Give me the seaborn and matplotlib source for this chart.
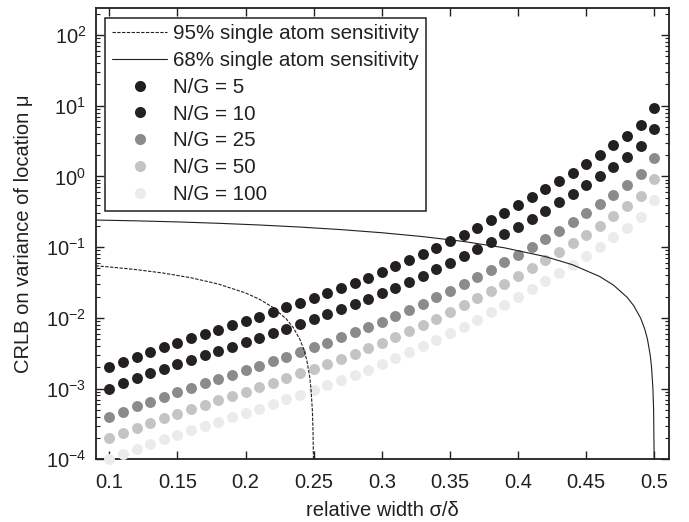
import numpy as np
import pandas as pd
import matplotlib
matplotlib.use("Agg")
import matplotlib.pyplot as plt
import seaborn as sns
from matplotlib.lines import Line2D

sns.set_theme(style="ticks")
plt.rcParams['font.family'] = ['Liberation Sans', 'DejaVu Sans']
plt.rcParams['mathtext.fontset'] = 'custom'
plt.rcParams['mathtext.rm'] = 'Liberation Sans'
plt.rcParams['mathtext.it'] = 'Liberation Sans:italic'
plt.rcParams['mathtext.default'] = 'regular'

INK = '#231f20'

# ---------------- data ----------------
sigma = [0.10, 0.11, 0.12, 0.13, 0.14, 0.15, 0.16, 0.17, 0.18, 0.19, 0.20,
         0.21, 0.22, 0.23, 0.24, 0.25, 0.26, 0.27, 0.28, 0.29, 0.30,
         0.31, 0.32, 0.33, 0.34, 0.35, 0.36, 0.37, 0.38, 0.39, 0.40,
         0.41, 0.42, 0.43, 0.44, 0.45, 0.46, 0.47, 0.48, 0.49, 0.50]

crlb_ng5 = [2.00e-3, 2.37e-3, 2.80e-3, 3.27e-3, 3.82e-3, 4.44e-3, 5.13e-3, 5.92e-3, 6.81e-3, 7.83e-3, 9.04e-3,
            1.045e-2, 1.21e-2, 1.406e-2, 1.637e-2, 1.91e-2, 2.24e-2, 2.64e-2, 3.12e-2, 3.71e-2, 4.44e-2,
            5.35e-2, 6.49e-2, 7.92e-2, 9.75e-2, 0.121, 0.151, 0.189, 0.239, 0.305, 0.391,
            0.505, 0.656, 0.859, 1.13, 1.51, 2.02, 2.74, 3.78, 5.37, 9.23]

crlb_ng10 = [1.00e-3, 1.185e-3, 1.40e-3, 1.635e-3, 1.91e-3, 2.22e-3, 2.565e-3, 2.96e-3, 3.405e-3, 3.915e-3, 4.52e-3,
             5.225e-3, 6.05e-3, 7.03e-3, 8.185e-3, 9.55e-3, 1.12e-2, 1.32e-2, 1.56e-2, 1.855e-2, 2.22e-2,
             2.675e-2, 3.245e-2, 3.96e-2, 4.875e-2, 6.05e-2, 7.55e-2, 9.45e-2, 0.1195, 0.1525, 0.1955,
             0.2525, 0.328, 0.4295, 0.565, 0.755, 1.01, 1.37, 1.89, 2.685, 4.615]

crlb_ng25 = [4.00e-4, 4.74e-4, 5.60e-4, 6.54e-4, 7.64e-4, 8.88e-4, 1.026e-3, 1.184e-3, 1.362e-3, 1.566e-3, 1.808e-3,
             2.09e-3, 2.42e-3, 2.812e-3, 3.274e-3, 3.82e-3, 4.48e-3, 5.28e-3, 6.24e-3, 7.42e-3, 8.88e-3,
             1.07e-2, 1.298e-2, 1.584e-2, 1.95e-2, 2.42e-2, 3.02e-2, 3.78e-2, 4.78e-2, 6.10e-2, 7.82e-2,
             0.101, 0.1312, 0.1718, 0.226, 0.302, 0.404, 0.548, 0.756, 1.074, 1.846]

crlb_ng50 = [2.00e-4, 2.37e-4, 2.80e-4, 3.27e-4, 3.82e-4, 4.44e-4, 5.13e-4, 5.92e-4, 6.81e-4, 7.83e-4, 9.04e-4,
             1.045e-3, 1.21e-3, 1.406e-3, 1.637e-3, 1.91e-3, 2.24e-3, 2.64e-3, 3.12e-3, 3.71e-3, 4.44e-3,
             5.35e-3, 6.49e-3, 7.92e-3, 9.75e-3, 1.21e-2, 1.51e-2, 1.89e-2, 2.39e-2, 3.05e-2, 3.91e-2,
             5.05e-2, 6.56e-2, 8.59e-2, 0.113, 0.151, 0.202, 0.274, 0.378, 0.537, 0.923]

crlb_ng100 = [1.00e-4, 1.185e-4, 1.40e-4, 1.635e-4, 1.91e-4, 2.22e-4, 2.565e-4, 2.96e-4, 3.405e-4, 3.915e-4, 4.52e-4,
              5.225e-4, 6.05e-4, 7.03e-4, 8.185e-4, 9.55e-4, 1.12e-3, 1.32e-3, 1.56e-3, 1.855e-3, 2.22e-3,
              2.675e-3, 3.245e-3, 3.96e-3, 4.875e-3, 6.05e-3, 7.55e-3, 9.45e-3, 1.195e-2, 1.525e-2, 1.955e-2,
              2.525e-2, 3.28e-2, 4.295e-2, 5.65e-2, 7.55e-2, 0.101, 0.137, 0.189, 0.2685, 0.4615]

series_labels = ['N/G = 5', 'N/G = 10', 'N/G = 25', 'N/G = 50', 'N/G = 100']
series_colors = ['#231f20', '#262223', '#8c8b8c', '#c4c4c4', '#ebebeb']

# sensitivity limits
sens95_x = [0.09, 0.10, 0.12, 0.14, 0.16, 0.18, 0.20, 0.21, 0.22, 0.23, 0.235, 0.24, 0.243,
            0.245, 0.247, 0.248, 0.249, 0.2495, 0.2498, 0.2499]
sens95_y = [0.0544, 0.0525, 0.0481, 0.0429, 0.0369, 0.0301, 0.0225, 0.0184, 0.0141, 0.0096, 0.00728,
            0.0049, 0.00345, 0.00248, 0.00149, 0.00100, 0.000499, 0.00025, 0.0001, 0.00005]

sens68_x = [0.09, 0.12, 0.15, 0.18, 0.21, 0.24, 0.27, 0.30, 0.33, 0.36, 0.39, 0.42, 0.44, 0.46,
            0.47, 0.48, 0.485, 0.49, 0.493, 0.495, 0.497, 0.498, 0.499, 0.4995, 0.4999, 0.49995]
sens68_y = [0.2419, 0.2356, 0.2275, 0.2176, 0.2059, 0.1924, 0.1771, 0.16, 0.1411, 0.1204, 0.0979,
            0.0736, 0.0564, 0.0384, 0.0291, 0.0196, 0.01478, 0.0099, 0.00695, 0.004975, 0.00299,
            0.001996, 0.000999, 0.0005, 0.0001, 0.00005]

# ---------------- frame ----------------
frames = []
for lab, vals in zip(series_labels, [crlb_ng5, crlb_ng10, crlb_ng25, crlb_ng50, crlb_ng100]):
    frames.append(pd.DataFrame({'sigma': sigma, 'crlb': vals, 'series': lab}))
df = pd.concat(frames, ignore_index=True)

fig = plt.figure(figsize=(6.89, 5.22), dpi=100)
ax = fig.add_axes([96/689, 1 - 459.3/522, (669 - 96)/689, (459.3 - 8.3)/522])

# dots: draw lightest first so darker ones sit on top
for lab, col in reversed(list(zip(series_labels, series_colors))):
    sub = df[df['series'] == lab]
    sns.scatterplot(data=sub, x='sigma', y='crlb', color=col, s=62, linewidth=0,
                    ax=ax, legend=False, clip_on=False, zorder=3)

sns.lineplot(x=sens95_x, y=sens95_y, ax=ax, color=INK, lw=0.8, sort=False,
             estimator=None, linestyle=(0, (3.0, 1.3)), zorder=4)
sns.lineplot(x=sens68_x, y=sens68_y, ax=ax, color=INK, lw=0.8, sort=False,
             estimator=None, zorder=4)

ax.set_yscale('log')
ax.set_xlim(0.0902, 0.5108)
ax.set_ylim(1e-4, 10**2.378)
ax.set_xticks([0.1, 0.15, 0.2, 0.25, 0.3, 0.35, 0.4, 0.45, 0.5])
ax.set_xticklabels(['0.1', '0.15', '0.2', '0.25', '0.3', '0.35', '0.4', '0.45', '0.5'])
ax.set_yticks([1e-4, 1e-3, 1e-2, 1e-1, 1e0, 1e1, 1e2])
ax.set_yticklabels([r'$10^{-4}$', r'$10^{-3}$', r'$10^{-2}$', r'$10^{-1}$',
                    r'$10^{0}$', r'$10^{1}$', r'$10^{2}$'])
ax.yaxis.set_minor_locator(matplotlib.ticker.LogLocator(base=10, subs=np.arange(2, 10), numticks=20))
ax.yaxis.set_minor_formatter(matplotlib.ticker.NullFormatter())
ax.xaxis.set_minor_locator(matplotlib.ticker.NullLocator())

ax.tick_params(axis='both', which='major', direction='in', length=6, width=1,
               colors=INK, labelsize=14.5, top=True, right=True, bottom=True, left=True)
ax.tick_params(axis='x', which='major', pad=10)
ax.tick_params(axis='y', which='major', pad=7)
ax.tick_params(axis='y', which='minor', direction='in', length=3, width=0.8,
               colors=INK, left=True, right=True)
for sp in ax.spines.values():
    sp.set_visible(True)
    sp.set_color(INK)
    sp.set_linewidth(1.3)

ax.set_xlabel('relative width σ/δ', fontsize=14.5, color=INK, labelpad=6)
ax.set_ylabel('CRLB on variance of location μ', fontsize=14.5, color=INK, labelpad=9)

handles = [Line2D([], [], color=INK, lw=0.8, linestyle=(0, (3.0, 1.3))),
           Line2D([], [], color=INK, lw=0.8)]
for col in series_colors:
    handles.append(Line2D([], [], marker='o', linestyle='none', markersize=8,
                          markerfacecolor=col, markeredgewidth=0))
labels = ['95% single atom sensitivity', '68% single atom sensitivity'] + series_labels
leg = ax.legend(handles, labels, loc='upper left', fontsize=14.8, frameon=True,
                fancybox=False, framealpha=1, edgecolor=INK, borderaxespad=0.45,
                handlelength=2.7, handletextpad=0.3, labelspacing=0.38, borderpad=0.32)
leg.get_frame().set_linewidth(1.1)
for t in leg.get_texts():
    t.set_color(INK)

fig.savefig('out.png', dpi=100, facecolor='white')
